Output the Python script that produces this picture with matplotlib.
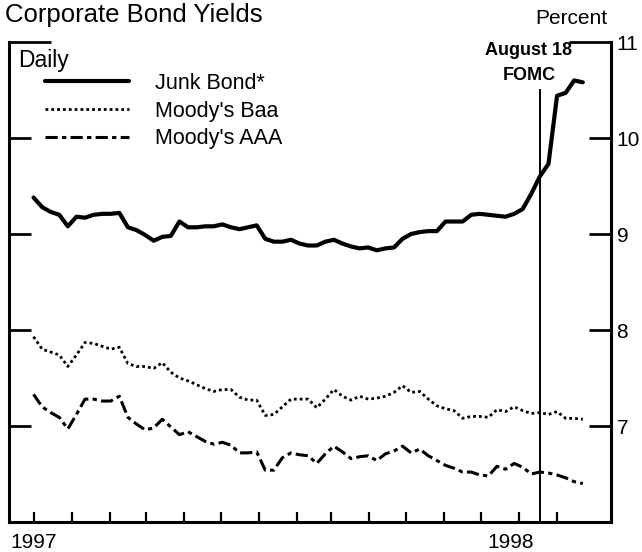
import pandas as pd
import matplotlib
matplotlib.use("Agg")
import matplotlib.pyplot as plt
import matplotlib.dates as mdates
from matplotlib.ticker import FixedLocator, NullFormatter

plt.rcParams['font.family'] = ['Liberation Sans', 'DejaVu Sans']

# weekly readings, Jul 1997 - Sep 1998 (percent)
dates = pd.date_range("1997-07-01", periods=65, freq="7D")

junk = [9.38, 9.28, 9.23, 9.20, 9.08, 9.18, 9.17, 9.20, 9.21, 9.21,
        9.22, 9.07, 9.04, 8.99, 8.93, 8.97, 8.98, 9.13, 9.07, 9.07,
        9.08, 9.08, 9.10, 9.07, 9.05, 9.07, 9.09, 8.95, 8.92, 8.92,
        8.94, 8.90, 8.88, 8.88, 8.92, 8.94, 8.90, 8.87, 8.85, 8.86,
        8.83, 8.85, 8.86, 8.95, 9.00, 9.02, 9.03, 9.03, 9.13, 9.13,
        9.13, 9.20, 9.21, 9.20, 9.19, 9.18, 9.21, 9.26, 9.42, 9.60,
        9.73, 10.44, 10.47, 10.60, 10.58]

baa = [7.93, 7.80, 7.77, 7.74, 7.62, 7.74, 7.87, 7.86, 7.83, 7.80,
       7.82, 7.65, 7.62, 7.62, 7.60, 7.66, 7.56, 7.50, 7.47, 7.43,
       7.39, 7.36, 7.38, 7.38, 7.30, 7.27, 7.27, 7.11, 7.12, 7.20,
       7.28, 7.28, 7.28, 7.19, 7.28, 7.38, 7.31, 7.27, 7.31, 7.28,
       7.29, 7.31, 7.35, 7.42, 7.35, 7.36, 7.28, 7.21, 7.18, 7.16,
       7.08, 7.10, 7.10, 7.09, 7.17, 7.15, 7.20, 7.16, 7.13, 7.14,
       7.12, 7.15, 7.08, 7.08, 7.07]

aaa = [7.33, 7.20, 7.14, 7.09, 6.97, 7.12, 7.28, 7.28, 7.26, 7.26,
       7.31, 7.09, 7.02, 6.96, 6.98, 7.07, 6.99, 6.91, 6.94, 6.89,
       6.84, 6.81, 6.83, 6.80, 6.72, 6.72, 6.73, 6.54, 6.54, 6.67,
       6.72, 6.70, 6.69, 6.61, 6.71, 6.79, 6.73, 6.66, 6.68, 6.69,
       6.64, 6.71, 6.74, 6.79, 6.72, 6.76, 6.69, 6.64, 6.59, 6.56,
       6.52, 6.52, 6.49, 6.48, 6.58, 6.55, 6.61, 6.57, 6.50, 6.52,
       6.51, 6.49, 6.46, 6.42, 6.40]

fomc_date = pd.Timestamp("1998-08-18")

fig = plt.figure(figsize=(6.42, 5.52), dpi=100)
ax = fig.add_axes([9 / 642, 30 / 552, 602 / 642, 480 / 552])

ax.plot(dates, junk, color='black', lw=3.0, solid_capstyle='round', label='Junk Bond*')
ax.plot(dates, baa, color='black', lw=2.0, linestyle=(0, (1, 1.1)), label="Moody's Baa")
ax.plot(dates, aaa, color='black', lw=2.2, linestyle=(0, (4, 1.4, 1.4, 1.4)), label="Moody's AAA")

# FOMC marker
ax.plot([fomc_date, fomc_date], [6.0, 10.5], color='black', lw=1.4)
ax.text(pd.Timestamp("1998-08-09"), 10.91, "August 18", ha='center', va='center',
        fontsize=13, fontweight='bold')
ax.text(pd.Timestamp("1998-08-09"), 10.65, "FOMC", ha='center', va='center',
        fontsize=13, fontweight='bold')

ax.set_ylim(6.0, 11.0)
ax.set_xlim(pd.Timestamp("1997-06-11"), pd.Timestamp("1998-10-15"))

for s in ['left', 'right', 'bottom']:
    ax.spines[s].set_linewidth(2.2)
ax.spines['top'].set_visible(False)

# y ticks on both sides, labels on the right
ax.yaxis.set_major_locator(FixedLocator([7, 8, 9, 10]))
ax.yaxis.set_minor_locator(FixedLocator([11]))
ax.yaxis.set_minor_formatter(lambda v, p: "%d" % v)
ax.tick_params(axis='y', which='both', direction='in', left=True, right=True,
               labelleft=False, labelright=True, labelsize=15, width=2.0, pad=4)
ax.tick_params(axis='y', which='major', length=16)
ax.tick_params(axis='y', which='minor', length=30)

# month ticks on the bottom, year labels as text
months = pd.date_range("1997-07-01", "1998-09-01", freq="MS")
ax.xaxis.set_major_locator(FixedLocator(mdates.date2num(months)))
ax.xaxis.set_major_formatter(NullFormatter())
ax.xaxis.set_minor_locator(FixedLocator([mdates.date2num(pd.Timestamp("1998-01-01"))]))
ax.tick_params(axis='x', which='major', direction='in', length=7, width=1.6, top=False)
ax.tick_params(axis='x', which='minor', direction='in', length=11, width=2.2, top=False)
ax.text(pd.Timestamp("1997-07-01"), -0.022, "1997", transform=ax.get_xaxis_transform(),
        ha='center', va='top', fontsize=15)
ax.text(pd.Timestamp("1998-07-25"), -0.022, "1998", transform=ax.get_xaxis_transform(),
        ha='center', va='top', fontsize=15)

fig.text(5 / 642, 1 - 15 / 552, "Corporate Bond Yields", ha='left', va='center', fontsize=18.5)
fig.text(607 / 642, 1 - 19 / 552, "Percent", ha='right', va='center', fontsize=15)
fig.text(18 / 642, 1 - 61 / 552, "Daily", ha='left', va='center', fontsize=16.5)

ax.legend(loc='upper left', bbox_to_anchor=(45 / 642, 1 - 73 / 552),
          bbox_transform=fig.transFigure, frameon=False, fontsize=15.5,
          handlelength=3.9, handletextpad=1.2, labelspacing=0.31,
          borderpad=0, borderaxespad=0)

fig.savefig("out.png", dpi=100)
